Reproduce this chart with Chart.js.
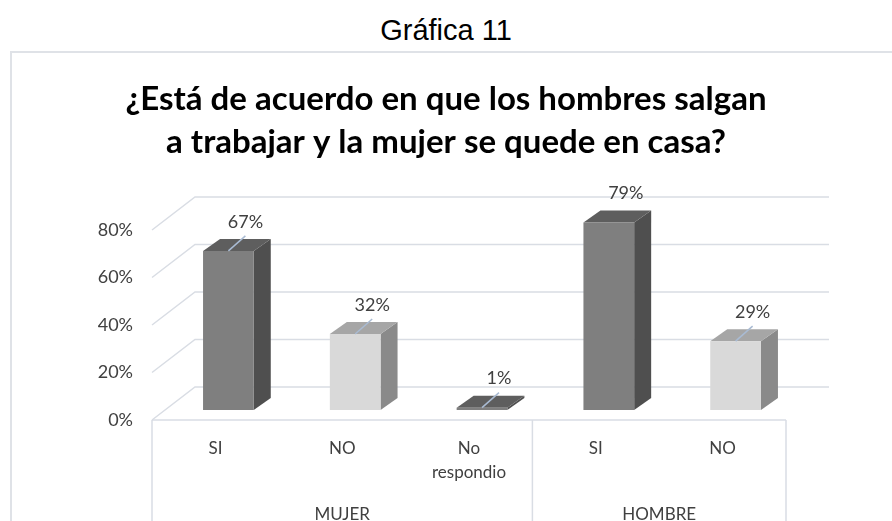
<!DOCTYPE html>
<html><head><meta charset="utf-8">
<script src="https://cdn.jsdelivr.net/npm/chart.js@4.4.1/dist/chart.umd.min.js"></script>
<style>
html,body{margin:0;padding:0;background:#fff;}
body{width:892px;height:521px;overflow:hidden;position:relative;}
#head{position:absolute;left:0;top:12px;width:892px;text-align:center;font:29px "Liberation Sans",Arial,sans-serif;color:#000;line-height:36px;}
#frame{position:absolute;left:10px;top:51px;width:920px;height:520px;border:2px solid #dfe2e7;box-sizing:border-box;}
#wrap{position:absolute;left:0;top:0;width:892px;height:521px;}
</style></head>
<body>
<div id="head">Gráfica 11</div>
<div id="frame"></div>
<div id="wrap"><canvas id="c"></canvas></div>
<script>
const categories = ['SI', 'NO', ['No', 'respondio'], 'SI', 'NO'];
const groups = ['MUJER', 'HOMBRE'];
const groupSizes = [3, 2];
const values = [0.67, 0.32, 0.01, 0.79, 0.29];
const yTicks = [0, 0.2, 0.4, 0.6, 0.8];
const titleLines = ['¿Está de acuerdo en que los hombres salgan', 'a trabajar y la mujer se quede en casa?'];

const GRID = '#d9dde4';
const TXT = '#404040';
const DX = 43, DY = -33;   // floor depth
const FX = 13, FY = -10;   // bar front plane offset
const BX = 17, BY = -12;   // bar depth
const DARK = {front: '#7f7f7f', top: '#5e5e5e', side: '#4f4f4f'};
const LIGHT = {front: '#d9d9d9', top: '#a6a6a6', side: '#8a8a8a'};
function tone(label) {
  const s = Array.isArray(label) ? label.join(' ') : label;
  return s === 'NO' ? LIGHT : DARK;
}
function poly(ctx, pts, fill) {
  ctx.beginPath();
  ctx.moveTo(pts[0][0], pts[0][1]);
  for (let i = 1; i < pts.length; i++) ctx.lineTo(pts[i][0], pts[i][1]);
  ctx.closePath();
  ctx.fillStyle = fill;
  ctx.fill();
}

const three = {
  id: 'three',
  beforeDatasetsDraw(chart) {
    const {ctx, chartArea: a, scales: {x, y}} = chart;
    ctx.save();
    ctx.strokeStyle = GRID;
    ctx.lineWidth = 1.5;
    yTicks.forEach(v => {
      const py = y.getPixelForValue(v);
      ctx.beginPath();
      ctx.moveTo(a.left, py);
      ctx.lineTo(a.left + DX, py + DY);
      ctx.lineTo(a.right + DX, py + DY);
      ctx.stroke();
    });
    ctx.beginPath();
    ctx.moveTo(a.left, a.bottom);
    ctx.lineTo(a.right, a.bottom);
    ctx.stroke();
    const xs = [x.left];
    let idx = 0;
    groupSizes.forEach(n => {
      idx += n;
      xs.push(idx >= categories.length ? x.right : (x.getPixelForValue(idx - 1) + x.getPixelForValue(idx)) / 2);
    });
    xs.forEach(px => {
      ctx.beginPath();
      ctx.moveTo(px, a.bottom);
      ctx.lineTo(px, chart.height + 5);
      ctx.stroke();
    });
    ctx.fillStyle = TXT;
    ctx.font = '17px Lato';
    ctx.textAlign = 'center';
    ctx.textBaseline = 'middle';
    groups.forEach((g, i) => {
      ctx.fillText(g, (xs[i] + xs[i + 1]) / 2, a.bottom + 95);
    });
    ctx.restore();
  },
  afterDatasetsDraw(chart) {
    const {ctx} = chart;
    const meta = chart.getDatasetMeta(0);
    const maxV = Math.max(...values);
    ctx.save();
    meta.data.forEach((bar, i) => {
      const p = bar.getProps(['x', 'y', 'base', 'width'], true);
      const c = tone(categories[i]);
      const l = p.x - p.width / 2 + FX, r = p.x + p.width / 2 + FX;
      const t = p.y + FY, b = p.base + FY;
      poly(ctx, [[r, t], [r + BX, t + BY], [r + BX, b + BY], [r, b]], c.side);
      poly(ctx, [[l, t], [r, t], [r + BX, t + BY], [l + BX, t + BY]], c.top);
      poly(ctx, [[l, t], [r, t], [r, b], [l, b]], c.front);
      const cx = p.x + FX;
      if (values[i] !== maxV) {
        ctx.strokeStyle = '#a9bbd3';
        ctx.lineWidth = 1.5;
        ctx.beginPath();
        ctx.moveTo(cx, t);
        ctx.lineTo(cx + BX, t + BY - 3);
        ctx.stroke();
      }
      ctx.fillStyle = TXT;
      ctx.font = '18px Lato';
      ctx.textAlign = 'center';
      ctx.textBaseline = 'middle';
      ctx.fillText(Math.round(values[i] * 100) + '%', cx + BX, t + BY - 17);
    });
    ctx.restore();
  }
};

new Chart(document.getElementById('c'), {
  type: 'bar',
  data: {
    labels: categories,
    datasets: [{data: values, backgroundColor: 'rgba(0,0,0,0)', borderWidth: 0, barPercentage: 0.4, categoryPercentage: 1}]
  },
  options: {
    responsive: true,
    maintainAspectRatio: false,
    animation: false,
    events: [],
    layout: {padding: 0},
    plugins: {
      legend: {display: false},
      tooltip: {enabled: false},
      title: {
        display: true,
        text: titleLines,
        color: '#000',
        font: {family: 'Lato', size: 33, weight: 'bold', lineHeight: '43px'},
        padding: {top: 78, bottom: 66}
      }
    },
    scales: {
      x: {
        grid: {display: false, drawTicks: false},
        border: {display: false},
        ticks: {color: TXT, font: {family: 'Lato', size: 17, lineHeight: 1.45}, padding: 16, maxRotation: 0, autoSkip: false},
        afterFit(s) { s.height = 101; }
      },
      y: {
        min: 0, max: 0.8,
        grid: {display: false, drawTicks: false},
        border: {display: false},
        ticks: {stepSize: 0.2, padding: 19, color: TXT, font: {family: 'Lato', size: 18}, callback: v => Math.round(v * 100) + '%'},
        afterFit(s) { s.width = 152; }
      },
      y2: {
        position: 'right',
        grid: {display: false, drawTicks: false},
        border: {display: false},
        ticks: {display: false},
        afterFit(s) { s.width = 106; }
      }
    }
  },
  plugins: [three]
});
</script>
</body></html>
